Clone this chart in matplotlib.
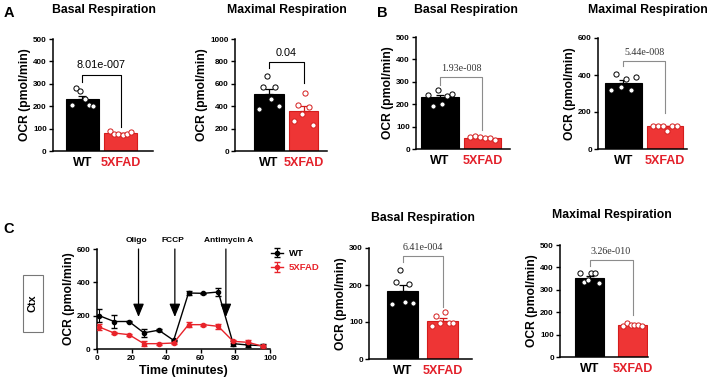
import numpy as np
import matplotlib
matplotlib.use("Agg")
import matplotlib.pyplot as plt
from matplotlib.patches import Rectangle

plt.rcParams['font.family'] = ['Liberation Sans', 'DejaVu Sans']

W, H = 708, 381
fig = plt.figure(figsize=(W / 100, H / 100), dpi=100)

RED = '#ee3535'
RED_EDGE = '#d41c1c'
RED_TXT = '#e3202a'

groups = ['WT', '5XFAD']

# ---------------- data ----------------
a_basal_wt = [205, 283, 266, 230, 205, 200]
a_basal_fad = [88, 75, 78, 72, 74, 87]
a_max_wt = [375, 567, 672, 460, 567, 403]
a_max_fad = [270, 410, 330, 515, 390, 230]
b_basal_wt = [243, 190, 262, 201, 238, 247]
b_basal_fad = [52, 58, 52, 48, 48, 42]
b_max_wt = [319, 408, 333, 378, 319, 387]
b_max_fad = [127, 127, 127, 95, 127, 127]
c_basal_wt = [148, 209, 240, 153, 204, 152]
c_basal_fad = [88, 115, 98, 126, 98, 98]
c_max_wt = [373, 333, 343, 373, 373, 331]
c_max_fad = [137, 154, 142, 142, 142, 137]

pvals = ['8.01e-007', '0.04', '1.93e-008', '5.44e-008', '6.41e-004', '3.26e-010']
# bracket: top, left leg end, right leg end (data units)
brackets = [(340, 308, 109), (791, 740, 606), (321, 287, 86),
            (476, 448, 193), (278, 262, 141), (433, 406, 187)]
titles = ['Basal Respiration', 'Maximal Respiration', 'Basal Respiration',
          'Maximal Respiration', 'Basal Respiration', 'Maximal Respiration']
ymaxes = [500, 1000, 500, 600, 300, 500]
ysteps = [100, 200, 100, 200, 100, 100]

time_min = [1.3, 9.9, 18.5, 27.1, 35.7, 44.3, 52.9, 61.5, 70.1, 78.7, 87.3, 95.9]
wt_ocr = [200, 165, 165, 97, 113, 52, 336, 334, 342, 32, 24, 20]
wt_err = [38, 38, 5, 25, 5, 5, 10, 5, 25, 15, 10, 8]
fad_ocr = [132, 96, 86, 32, 32, 36, 146, 146, 136, 46, 40, 16]
fad_err = [20, 8, 5, 15, 5, 5, 15, 5, 15, 10, 15, 8]
injections = ['Oligo', 'FCCP', 'Antimycin A']
inj_times = [24, 45, 74.5]


def add_ax(x0, x1, ytop, ybot):
    return fig.add_axes([x0 / W, 1 - ybot / H, (x1 - x0) / W, (ybot - ytop) / H])


def style_axes(ax):
    for s in ['top', 'right']:
        ax.spines[s].set_visible(False)
    for s in ['left', 'bottom']:
        ax.spines[s].set_linewidth(1.1)
    ax.tick_params(axis='y', length=3, width=1.0, labelsize=5.8, pad=1.5)
    for lab in ax.get_yticklabels():
        lab.set_fontweight('bold')


# layout: (spine x, axis end x, top px, bottom px, xlim, bar width)
layouts = [
    (53, 153, 39, 151, (-0.776, 1.855), 0.87),
    (235, 327, 39, 151, (-0.986, 1.681), 0.85),
    (416, 510, 37, 149, (-0.565, 1.65), 0.88),
    (598, 687, 38, 149, (-0.614, 1.53), 0.88),
    (369, 472, 248, 359, (-0.8375, 1.7375), 0.76),
    (560, 648, 245, 357, (-0.686, 1.36), 0.68),
]
title_pos = [(104, 10), (287, 10), (466, 10), (648, 10), (423, 218), (612, 215)]
bar_data = [(a_basal_wt, a_basal_fad), (a_max_wt, a_max_fad), (b_basal_wt, b_basal_fad),
            (b_max_wt, b_max_fad), (c_basal_wt, c_basal_fad), (c_max_wt, c_max_fad)]

for i, (wt, fad) in enumerate(bar_data):
    x0, x1, yt, yb, xl, bw = layouts[i]
    ax = add_ax(x0, x1, yt, yb)
    vals = [np.array(wt, float), np.array(fad, float)]
    means = [v.mean() for v in vals]
    sems = [v.std(ddof=1) / np.sqrt(len(v)) for v in vals]
    faces = ['black', RED]
    edges = ['black', RED_EDGE]
    for j in range(2):
        ax.bar(j, means[j], width=bw, color=faces[j], edgecolor=edges[j], linewidth=0.8, zorder=2)
        ax.errorbar(j, means[j], yerr=[[0], [sems[j]]], color=edges[j], capsize=3,
                    elinewidth=0.9, capthick=0.9, zorder=3)
        n = len(vals[j])
        offs = np.linspace(-bw * 0.33, bw * 0.33, n)
        ax.scatter(j + offs, vals[j], s=14, facecolor='white', edgecolor=edges[j],
                   linewidth=0.7, zorder=4)
    ax.set_xlim(*xl)
    ax.set_ylim(0, ymaxes[i])
    ax.set_yticks(np.arange(0, ymaxes[i] + 1, ysteps[i]))
    ax.set_xticks([0, 1])
    ax.set_xticklabels(groups, fontsize=9, fontweight='bold')
    ax.get_xticklabels()[1].set_color(RED_TXT)
    ax.tick_params(axis='x', length=0, pad=4)
    style_axes(ax)
    ax.set_ylabel('OCR (pmol/min)', fontsize=8.7, fontweight='bold', labelpad=1.5)
    top, ll, rl = brackets[i]
    bc = 'black' if i < 2 else '#8c8c8c'
    ax.plot([0, 0, 1, 1], [ll, top, top, rl], color=bc, lw=0.8, zorder=5, clip_on=False)
    if i < 2:
        ax.text(0.5, top + ymaxes[i] * 0.04, pvals[i], ha='center', va='bottom',
                fontsize=7.8, clip_on=False)
    else:
        ax.text(0.5, top + ymaxes[i] * 0.035, pvals[i], ha='center', va='bottom',
                fontsize=7.2, family=['Liberation Serif'], color='#333333', clip_on=False)
    tx, ty = title_pos[i]
    fig.text(tx / W, 1 - ty / H, titles[i], ha='center', va='center',
             fontsize=8.8, fontweight='bold')

# ---------------- line chart ----------------
axl = add_ax(97, 270, 249, 349)
l1 = axl.errorbar(time_min, wt_ocr, yerr=wt_err, color='black', marker='o', ms=3,
                  lw=1.0, capsize=2, elinewidth=0.8, label='WT', zorder=3)
l2 = axl.errorbar(time_min, fad_ocr, yerr=fad_err, color='#e8232a', marker='o', ms=3,
                  lw=1.0, capsize=2, elinewidth=0.8, label='5XFAD', zorder=3)
axl.set_xlim(0, 100)
axl.set_ylim(0, 600)
axl.set_xticks(np.arange(0, 101, 20))
axl.set_yticks(np.arange(0, 601, 200))
style_axes(axl)
axl.tick_params(axis='x', length=3, width=1.0, labelsize=5.8, pad=1.5)
for lab in axl.get_xticklabels():
    lab.set_fontweight('bold')
axl.set_xlabel('Time (minutes)', fontsize=9, fontweight='bold', labelpad=2)
axl.set_ylabel('OCR (pmol/min)', fontsize=8.7, fontweight='bold', labelpad=1.5)
for name, t in zip(injections, inj_times):
    axl.annotate('', xy=(t, 192), xytext=(t, 600),
                 arrowprops=dict(arrowstyle='-|>,head_length=0.8,head_width=0.33',
                                 color='black', lw=0.9, shrinkA=0, shrinkB=0),
                 annotation_clip=False)
    axl.text(t + (1.5 if name == 'Antimycin A' else -1), 648, name, ha='center',
             va='center', fontsize=6, fontweight='bold', clip_on=False)
leg = axl.legend(loc='upper left', bbox_to_anchor=(271 / W, 1 - 249 / H),
                 bbox_transform=fig.transFigure, frameon=False, fontsize=6.8,
                 handlelength=1.3, handletextpad=0.6, labelspacing=0.55,
                 labelcolor='linecolor', borderaxespad=0, borderpad=0)
for t in leg.get_texts():
    t.set_fontweight('bold')

# Ctx box
fig.patches.append(Rectangle((23 / W, 1 - 332 / H), 20 / W, 57 / H, transform=fig.transFigure,
                             fill=False, edgecolor='#777777', lw=0.8))
fig.text(33 / W, 1 - 303 / H, 'Ctx', rotation=90, ha='center', va='center',
         fontsize=7.8, fontweight='bold')

# panel labels
for lab, (px, py) in zip(['A', 'B', 'C'], [(9, 13), (382, 13), (9, 229)]):
    fig.text(px / W, 1 - py / H, lab, ha='center', va='center', fontsize=10.5,
             fontweight='bold')

fig.savefig('out.png', dpi=100)
